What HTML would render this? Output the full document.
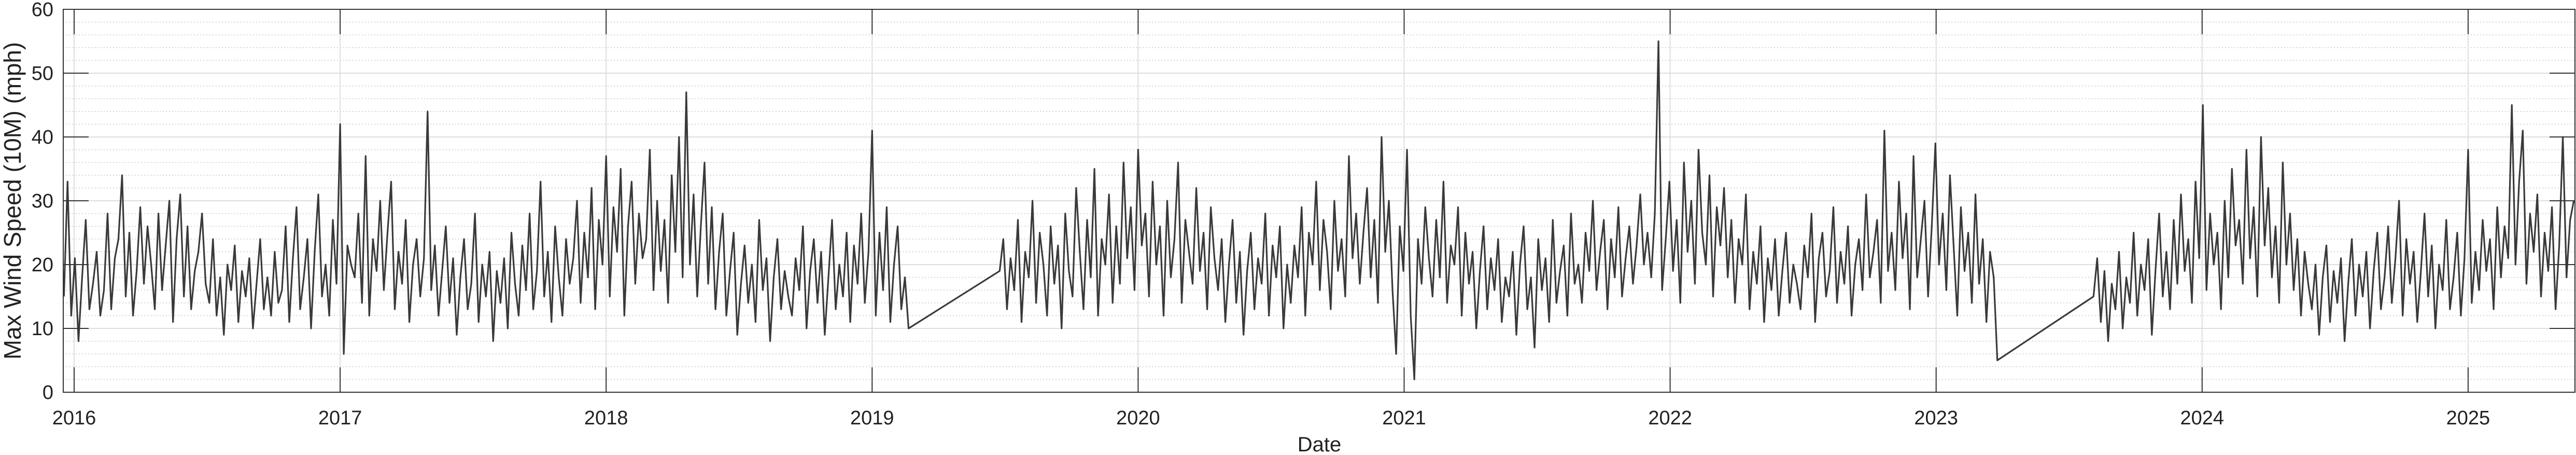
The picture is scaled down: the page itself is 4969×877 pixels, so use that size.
<!DOCTYPE html>
<html><head><meta charset="utf-8"><style>
html,body{margin:0;padding:0;background:#fff;}
svg{display:block;font-family:"Liberation Sans",sans-serif;}
</style></head><body>
<svg id="chart" width="4969" height="877" viewBox="0 0 4969 877" xmlns="http://www.w3.org/2000/svg">
<rect x="0" y="0" width="4969" height="877" fill="#fff"/>
<g id="grid"></g>
<g id="series"></g>
<g id="axes"></g>
<text transform="translate(40,387) rotate(-90)" text-anchor="middle" font-size="46" fill="#222" textLength="612" lengthAdjust="spacingAndGlyphs">Max Wind Speed (10M) (mph)</text>
<text x="2545" y="870" text-anchor="middle" font-size="40" fill="#222">Date</text>
</svg>
<script>
const yTicks = [0,10,20,30,40,50,60];
const xTickYears = [2016,2017,2018,2019,2020,2021,2022,2023,2024,2025];
const segStarts = ["2015-12-18","2019-06-25","2023-08-05"];
const stepDays = 5;
const seg1 = [15,33,12,21,8,18,27,13,17,22,12,16,28,13,21,24,34,15,25,12,
19,29,17,26,20,13,28,16,23,30,11,24,31,15,26,13,19,22,28,17,
14,24,12,18,9,20,16,23,11,19,15,21,10,17,24,13,18,12,22,14,
16,26,11,21,29,13,18,24,10,22,31,15,20,12,27,17,42,6,23,20,
18,28,14,37,12,24,19,30,16,25,33,13,22,17,27,11,20,24,15,21,
44,16,23,12,19,26,14,21,9,18,24,13,17,28,11,20,15,22,8,19,
14,21,10,25,17,12,23,16,28,13,19,33,15,22,11,26,18,12,24,17,
21,30,14,25,18,32,13,27,20,37,15,29,22,35,12,26,33,17,28,21,
24,38,16,30,19,27,14,34,22,40,18,47,20,31,15,26,36,17,29,13,
22,28,12,19,25,9,17,23,14,20,11,27,16,21,8,18,24,13,19,15,
12,21,16,26,10,19,24,14,22,9,18,27,13,20,15,25,11,23,17,28,
14,22,41,12,25,16,29,11,20,26,13,18,10];
const seg2 = [19,24,13,21,16,27,11,22,18,30,14,25,20,12,26,17,23,10,28,19,
15,32,22,13,27,18,35,12,24,20,31,14,26,17,36,21,29,16,38,23,
28,15,33,20,26,12,30,18,24,36,14,27,22,17,32,19,25,13,29,21,
16,24,11,20,27,14,22,9,19,25,13,21,17,28,12,23,18,26,10,20,
14,23,18,29,12,25,20,33,16,27,22,13,30,19,24,15,37,21,28,17,
25,32,18,27,14,40,22,30,16,6,26,19,38,12,2,24,17,29,21,15,
27,18,33,14,23,20,29,12,25,17,22,10,19,26,13,21,16,24,11,18,
15,22,9,20,26,13,18,7,24,16,21,11,27,14,19,23,12,28,17,20,
14,25,19,30,16,22,27,13,24,18,29,15,21,26,17,23,31,20,25,18,
28,55,16,24,33,19,27,14,36,22,30,17,38,25,20,34,15,29,23,32,
18,27,14,24,20,31,13,22,17,26,11,21,16,24,12,19,25,14,20,17,
13,23,18,28,11,21,25,15,19,29,14,22,17,26,12,20,24,16,31,18,
22,27,14,41,19,25,16,33,21,28,13,37,18,24,30,15,26,39,20,28,
16,34,23,12,29,19,25,14,31,17,24,11,22,18,5];
const seg3 = [15,21,11,19,8,17,13,22,10,18,14,25,12,20,16,24,9,19,28,15,
22,13,27,17,31,19,24,14,33,21,45,16,28,20,25,13,30,18,35,23,
27,17,38,21,29,15,40,23,32,18,26,14,36,20,28,16,24,12,22,17,
13,20,9,18,23,11,19,14,21,8,17,24,12,20,15,22,10,19,25,13,
18,26,14,21,30,12,24,17,22,11,19,28,15,23,10,20,16,27,13,18,
25,12,21,38,14,22,16,27,19,24,13,29,18,26,21,45,20,33,41,17,
28,22,31,15,25,19,29,13,23,40,18,27,30];
const segValues = [seg1, seg2, seg3];

const NS = "http://www.w3.org/2000/svg";
const L = 122, R = 4967, T = 18, B = 756;
const yMax = 60;
const x2016 = 143, pxPerYear = 513.1;
function yearFrac(d){ const y=d.getUTCFullYear(); const s=Date.UTC(y,0,1), e=Date.UTC(y+1,0,1); return y+(d.getTime()-s)/(e-s); }
function xScale(yf){ return x2016 + (yf-2016)*pxPerYear; }
function yScale(v){ return B - v/yMax*(B-T); }
function mk(tag, attrs, parent){ const el=document.createElementNS(NS,tag); for(const k in attrs) el.setAttribute(k,attrs[k]); parent.appendChild(el); return el; }

const grid = document.getElementById('grid');
for(let v=2; v<yMax; v+=2){
  if(v%10===0) continue;
  const ln = mk('line',{x1:L,x2:R,y1:yScale(v),y2:yScale(v),stroke:'#c8c8c8','stroke-width':1.5,'stroke-dasharray':'2 4'},grid);
  
  
}
yTicks.forEach(v=>{
  const ln = mk('line',{x1:L,x2:R,y1:yScale(v),y2:yScale(v),stroke:'#dedede','stroke-width':2},grid);
  
  
});
xTickYears.forEach(y=>{
  const x=xScale(y);
  const ln = mk('line',{x1:x,x2:x,y1:T,y2:B,stroke:'#dedede','stroke-width':2},grid);
  
  
});

const pts=[];
segStarts.forEach((s,i)=>{
  const start=new Date(s+"T00:00:00Z");
  segValues[i].forEach((v,j)=>{
    const d=new Date(start.getTime()+j*stepDays*86400000);
    pts.push(xScale(yearFrac(d)).toFixed(1)+","+yScale(v).toFixed(1));
  });
});
const line = mk('polyline',{points:pts.join(' '),fill:'none',stroke:'#3a3a3a','stroke-width':3.2,'stroke-linejoin':'round'},document.getElementById('series'));



const axes=document.getElementById('axes');
const box = mk('rect',{x:L,y:T,width:R-L,height:B-T,fill:'none',stroke:'#333','stroke-width':2},axes);


yTicks.forEach(v=>{
  const y=yScale(v);
  const t1=mk('line',{x1:L,x2:L+49,y1:y,y2:y,stroke:'#333','stroke-width':2},axes);
  
  
  const t2=mk('line',{x1:R-49,x2:R,y1:y,y2:y,stroke:'#333','stroke-width':2},axes);
  
  
  const tx=mk('text',{x:103,y:y+13,'text-anchor':'end','font-size':38,fill:'#222'},axes);
  tx.textContent=v;
  
  
});
xTickYears.forEach(yr=>{
  const x=xScale(yr);
  const t1=mk('line',{x1:x,x2:x,y1:T,y2:T+48,stroke:'#333','stroke-width':2},axes);
  
  
  const t2=mk('line',{x1:x,x2:x,y1:B-48,y2:B,stroke:'#333','stroke-width':2},axes);
  
  
  const tx=mk('text',{x:x,y:818,'text-anchor':'middle','font-size':38,fill:'#222'},axes);
  tx.textContent=yr;
  
  
});
</script>
</body></html>
